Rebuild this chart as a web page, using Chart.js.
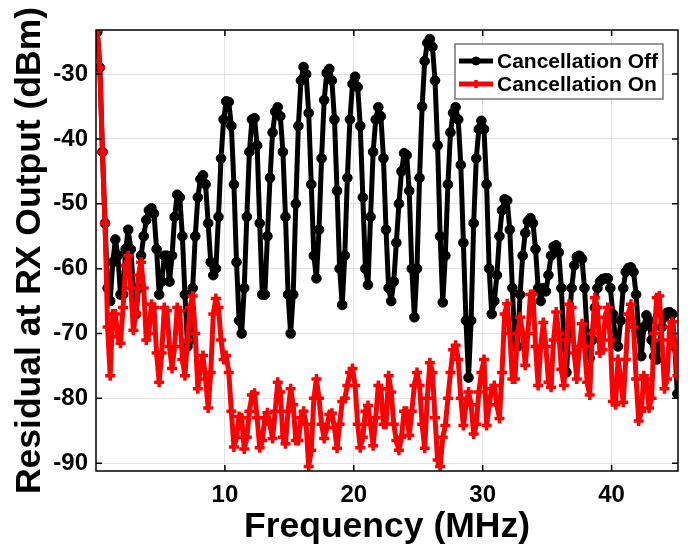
<!DOCTYPE html>
<html>
<head>
<meta charset="utf-8">
<script src="https://cdn.jsdelivr.net/npm/chart.js@4.4.1/dist/chart.umd.min.js"></script>
<style>
  html, body { margin: 0; padding: 0; background: #fff; }
  canvas { display: block; }
</style>
</head>
<body>
<canvas id="chart" width="688" height="552"></canvas>
<script>
// Residual at RX output vs frequency, with and without cancellation

// ── Data ─────────────────────────────────────────────────────
const freqMHz = [
  0.1, 0.3, 0.5, 0.7, 0.9, 1.1, 1.3, 1.5, 1.7, 1.9,
  2.1, 2.3, 2.5, 2.7, 2.9, 3.1, 3.3, 3.5, 3.7, 3.9,
  4.1, 4.3, 4.5, 4.7, 4.9, 5.1, 5.3, 5.5, 5.7, 5.9,
  6.1, 6.3, 6.5, 6.7, 6.9, 7.1, 7.3, 7.5, 7.7, 7.9,
  8.1, 8.3, 8.5, 8.7, 8.9, 9.1, 9.3, 9.5, 9.7, 9.9,
  10.1, 10.3, 10.5, 10.7, 10.9, 11.1, 11.3, 11.5, 11.7, 11.9,
  12.1, 12.3, 12.5, 12.7, 12.9, 13.1, 13.3, 13.5, 13.7, 13.9,
  14.1, 14.3, 14.5, 14.7, 14.9, 15.1, 15.3, 15.5, 15.7, 15.9,
  16.1, 16.3, 16.5, 16.7, 16.9, 17.1, 17.3, 17.5, 17.7, 17.9,
  18.1, 18.3, 18.5, 18.7, 18.9, 19.1, 19.3, 19.5, 19.7, 19.9,
  20.1, 20.3, 20.5, 20.7, 20.9, 21.1, 21.3, 21.5, 21.7, 21.9,
  22.1, 22.3, 22.5, 22.7, 22.9, 23.1, 23.3, 23.5, 23.7, 23.9,
  24.1, 24.3, 24.5, 24.7, 24.9, 25.1, 25.3, 25.5, 25.7, 25.9,
  26.1, 26.3, 26.5, 26.7, 26.9, 27.1, 27.3, 27.5, 27.7, 27.9,
  28.1, 28.3, 28.5, 28.7, 28.9, 29.1, 29.3, 29.5, 29.7, 29.9,
  30.1, 30.3, 30.5, 30.7, 30.9, 31.1, 31.3, 31.5, 31.7, 31.9,
  32.1, 32.3, 32.5, 32.7, 32.9, 33.1, 33.3, 33.5, 33.7, 33.9,
  34.1, 34.3, 34.5, 34.7, 34.9, 35.1, 35.3, 35.5, 35.7, 35.9,
  36.1, 36.3, 36.5, 36.7, 36.9, 37.1, 37.3, 37.5, 37.7, 37.9,
  38.1, 38.3, 38.5, 38.7, 38.9, 39.1, 39.3, 39.5, 39.7, 39.9,
  40.1, 40.3, 40.5, 40.7, 40.9, 41.1, 41.3, 41.5, 41.7, 41.9,
  42.1, 42.3, 42.5, 42.7, 42.9, 43.1, 43.3, 43.5, 43.7, 43.9,
  44.1, 44.3, 44.5, 44.7, 44.9, 45.1,
];

// Cancellation off (dBm)
const offDbm = [
  -23.5, -29, -42, -53, -63, -65, -59, -55.5, -58, -64,
  -64, -57, -54, -57, -63, -67, -63, -58, -55, -52.5,
  -51, -50.7, -51.5, -57, -64, -62, -58, -58, -62, -58,
  -52, -48.6, -49, -55, -64, -72, -71, -63, -55, -49,
  -46.2, -45.6, -47, -53, -59, -61, -60, -52, -43, -37,
  -34.2, -34.3, -38, -47, -59, -68, -70, -63, -52, -42,
  -37, -36.8, -41, -53, -64, -64, -55, -46, -39, -35.8,
  -35.1, -36.5, -42, -52, -64, -70, -64, -50, -38, -31,
  -28.9, -30, -36, -47, -58, -61.5, -54, -43, -34, -29.8,
  -29.2, -31, -37, -48, -60, -65.6, -58, -46, -37, -31.5,
  -30.4, -32, -38, -49, -60, -62.5, -52, -42, -37, -35.1,
  -36.5, -43, -54, -63, -65, -62, -56, -50, -45, -42.2,
  -42.5, -48, -60, -67.5, -60, -46, -35, -28, -25.2, -24.6,
  -25.8, -31, -41, -55, -65.2, -58, -47, -39, -36, -35.1,
  -37, -44, -56, -68, -76.8, -68, -53, -43, -38.5, -37.2,
  -38.5, -47, -60, -67, -65, -61, -55, -51, -49.3, -49.5,
  -54, -63, -72, -72, -64, -58, -54.5, -52.7, -52.2, -53,
  -57, -63, -65, -63, -63.5, -61, -58, -56.6, -56.4, -57.5,
  -63, -71, -76, -69, -63, -59.5, -58.2, -58, -58.5, -63,
  -70, -73.8, -71, -66, -63, -62, -61.6, -61.5, -61.5, -63,
  -67, -71, -72, -68, -63, -60.5, -59.9, -59.8, -60.5, -64,
  -70, -73.5, -69, -67.2, -68, -71, -73.5, -74, -72, -69,
  -67.5, -66.8, -66.7, -67, -72, -79.3,
];

// Cancellation on (dBm)
const onDbm = [
  -23.2, -29, -42, -53, -69, -76.5, -67, -67, -70.5, -71.5,
  -66, -59.5, -58, -63, -69.5, -67, -61, -59, -63, -71,
  -70, -65.5, -66, -73, -77.5, -73, -66, -66.5, -72, -75.4,
  -72, -66, -66.5, -74, -76.5, -71, -66, -64.2, -70, -78.5,
  -75, -73.4, -77, -81.5, -76, -67, -64.6, -66, -71, -74,
  -73.4, -76, -82, -87.5, -86, -82.8, -83, -87.8, -86, -82,
  -79.5, -79.2, -83, -87.6, -86.5, -83, -82.2, -84, -86.2, -82,
  -77.5, -79, -86, -87, -82, -78.5, -81, -86.5, -86.5, -83,
  -82, -84, -90.5, -88, -80, -77, -80, -84, -86.2, -84.5,
  -82.5, -82.3, -84.5, -87.7, -84, -80.5, -80, -78, -76, -75.4,
  -78, -84, -87.6, -86, -82, -81.1, -84, -87.3, -83, -78,
  -78.5, -84, -84, -76.5, -79, -84, -86.5, -88, -86, -82,
  -82, -85.7, -82, -78, -76, -78, -84, -87.7, -80, -74.5,
  -76, -83, -89.5, -90.5, -86, -84.2, -80, -76, -72.5, -71.8,
  -74, -80, -84.2, -81, -79, -81, -85.5, -84, -79, -76,
  -74, -84.2, -81, -78.5, -78, -81, -83.1, -76, -67, -65.4,
  -70, -77, -77, -70, -67.5, -70, -74.9, -70, -64, -64,
  -72, -78, -72, -68.3, -72, -77.5, -78.3, -71, -66.7, -70,
  -75.5, -78, -71, -65.5, -66, -73, -77, -72, -68.5, -72,
  -77.5, -79.5, -70, -64.5, -66, -73, -72.5, -67.5, -66, -71,
  -80.5, -81, -74, -77, -80.6, -74, -67, -65.5, -69, -77,
  -83.5, -82, -76.5, -77, -81.5, -80, -70, -64.5, -64.2, -71,
  -78.5, -77, -69, -68.2, -72, -76.5,
];

const seriesLabels = ["Cancellation Off", "Cancellation On"];
const xTickVals = [10, 20, 30, 40];
const yTickVals = [-90, -80, -70, -60, -50, -40, -30];

const FONT = "'Liberation Sans', Arial, Helvetica, sans-serif";

const toPoints = (ys) => freqMHz.map((f, i) => ({ x: f, y: ys[i] }));

// ── Axes box, inward ticks and boxed legend (MATLAB look) ────
const framePlugin = {
  id: "frame",
  afterDraw(chart) {
    const { ctx, chartArea: a, scales } = chart;
    ctx.save();

    ctx.strokeStyle = "#000";
    ctx.lineWidth = 1.5;
    ctx.strokeRect(a.left, a.top, a.right - a.left, a.bottom - a.top);
    ctx.beginPath();
    xTickVals.forEach((v) => {
      const px = scales.x.getPixelForValue(v);
      ctx.moveTo(px, a.bottom); ctx.lineTo(px, a.bottom - 6);
      ctx.moveTo(px, a.top); ctx.lineTo(px, a.top + 6);
    });
    yTickVals.forEach((v) => {
      const py = scales.y.getPixelForValue(v);
      ctx.moveTo(a.left, py); ctx.lineTo(a.left + 6, py);
      ctx.moveTo(a.right, py); ctx.lineTo(a.right - 6, py);
    });
    ctx.stroke();

    // legend
    const bw = 208, bh = 55;
    const bx = a.right - 15 - bw, by = a.top + 14;
    ctx.fillStyle = "#fff";
    ctx.fillRect(bx, by, bw, bh);
    ctx.strokeStyle = "#777";
    ctx.lineWidth = 1.5;
    ctx.strokeRect(bx, by, bw, bh);

    chart.data.datasets.forEach((ds, i) => {
      const y = by + 17 + i * 23;
      ctx.strokeStyle = ds.borderColor;
      ctx.fillStyle = ds.pointBackgroundColor;
      ctx.lineWidth = 5;
      ctx.beginPath();
      ctx.moveTo(bx + 4, y);
      ctx.lineTo(bx + 38, y);
      ctx.stroke();
      ctx.lineWidth = ds.pointBorderWidth;
      Chart.helpers.drawPoint(ctx, {
        pointStyle: ds.pointStyle,
        radius: 4,
        borderWidth: ds.pointBorderWidth,
        rotation: 0,
      }, bx + 21, y);

      ctx.fillStyle = "#000";
      ctx.font = "bold 21px " + FONT;
      ctx.textBaseline = "middle";
      ctx.textAlign = "left";
      ctx.fillText(ds.label, bx + 42, y + 1);
    });

    ctx.restore();
  },
};

// ── Chart ────────────────────────────────────────────────────

new Chart(document.getElementById("chart"), {
  type: "line",
  data: {
    datasets: [
      {
        label: seriesLabels[0],
        data: toPoints(offDbm),
        borderColor: "#000",
        backgroundColor: "#000",
        pointBackgroundColor: "#000",
        pointBorderColor: "#000",
        pointStyle: "circle",
        pointRadius: 4.8,
        pointBorderWidth: 1,
        borderWidth: 5,
        borderJoinStyle: "round",
        borderCapStyle: "round",
        tension: 0,
        order: 2,
      },
      {
        label: seriesLabels[1],
        data: toPoints(onDbm),
        borderColor: "#ff0000",
        backgroundColor: "#ff0000",
        pointBackgroundColor: "#ff0000",
        pointBorderColor: "#ff0000",
        pointStyle: "cross",
        pointRadius: 5,
        pointBorderWidth: 3.5,
        borderWidth: 5,
        borderJoinStyle: "round",
        borderCapStyle: "round",
        tension: 0,
        order: 1,
      },
    ],
  },
  options: {
    responsive: false,
    animation: false,
    events: [],
    layout: { padding: { top: 30, right: 10, left: 0, bottom: 0 } },
    plugins: { legend: { display: false }, tooltip: { enabled: false } },
    scales: {
      x: {
        type: "linear",
        min: 0,
        max: 45.15,
        afterBuildTicks: (s) => { s.ticks = xTickVals.map((v) => ({ value: v })); },
        afterFit: (s) => { s.height = 81; },
        grid: { color: "#e3e3e3", lineWidth: 1, drawTicks: false },
        border: { display: false },
        ticks: {
          color: "#000",
          padding: 10,
          maxRotation: 0,
          font: { family: FONT, size: 24, weight: "bold" },
        },
        title: {
          display: true,
          text: "Frequency (MHz)",
          color: "#000",
          font: { family: FONT, size: 35.5, weight: "bold" },
          padding: { top: 0, bottom: 3 },
        },
      },
      y: {
        min: -91.2,
        max: -23.2,
        afterBuildTicks: (s) => { s.ticks = yTickVals.map((v) => ({ value: v })); },
        afterFit: (s) => { s.width = 96; },
        grid: { color: "#e3e3e3", lineWidth: 1, drawTicks: false },
        border: { display: false },
        ticks: {
          color: "#000",
          padding: 8,
          font: { family: FONT, size: 24, weight: "bold" },
        },
        title: {
          display: true,
          text: "Residual at RX Output (dBm)",
          color: "#000",
          font: { family: FONT, size: 35.5, weight: "bold" },
          padding: { top: 9, bottom: 0 },
        },
      },
    },
  },
  plugins: [framePlugin],
});
</script>
</body>
</html>
